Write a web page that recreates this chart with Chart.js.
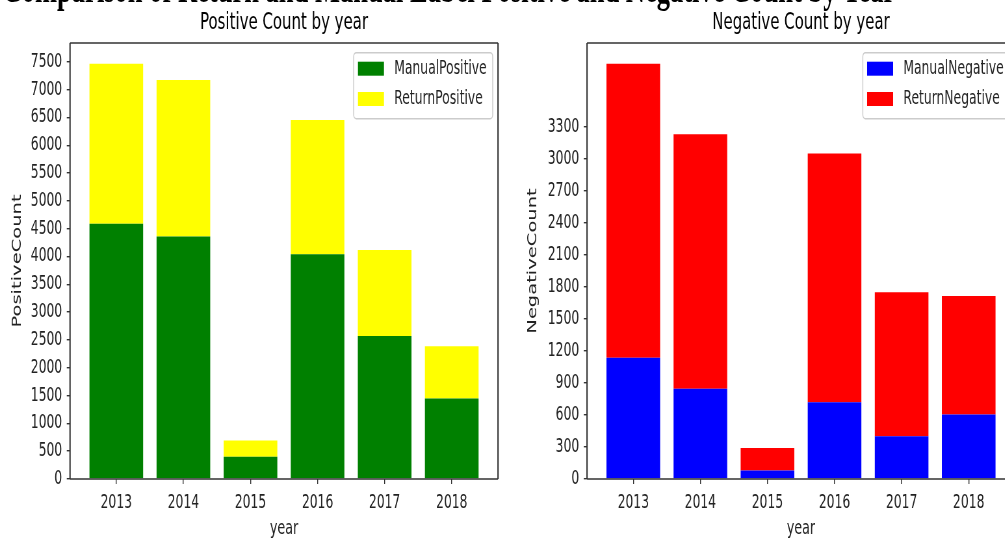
<!DOCTYPE html>
<html>
<head>
<meta charset="utf-8">
<script src="https://cdn.jsdelivr.net/npm/chart.js@4/dist/chart.umd.min.js"></script>
<style>
  html, body { margin: 0; padding: 0; background: #fff; overflow: hidden; }
  body { width: 1005px; height: 543px; position: relative; }
  #wrap {
    position: absolute; left: 0; top: 0; width: 1600px; height: 543px;
    transform: scaleX(0.65); transform-origin: 0 0;
  }
  #mainTitle {
    position: absolute; left: 4px; top: -31px; white-space: nowrap;
    font: bold 40.8px "Liberation Serif", serif; line-height: 40.8px; color: #000;
  }
  canvas { position: absolute; top: 0; }
  #posChart { left: 0; }
  #negChart { left: 790px; }
</style>
</head>
<body>
<div id="wrap">
  <div id="mainTitle">Comparison of Return and Manual Label Positive and Negative Count by Year</div>
  <canvas id="posChart" width="780" height="543"></canvas>
  <canvas id="negChart" width="780" height="543"></canvas>
</div>
<script>
// values
const years = ['2013', '2014', '2015', '2016', '2017', '2018'];
const manualPositive = [4590, 4360, 400, 4040, 2570, 1445];
const returnPositive = [2875, 2815, 290, 2415, 1545, 940];
const manualNegative = [1135, 845, 80, 720, 400, 605];
const returnNegative = [2755, 2385, 210, 2330, 1350, 1110];
const positiveTicks = [0, 500, 1000, 1500, 2000, 2500, 3000, 3500, 4000, 4500, 5000, 5500, 6000, 6500, 7000, 7500];
const negativeTicks = [0, 300, 600, 900, 1200, 1500, 1800, 2100, 2400, 2700, 3000, 3300];

const FONT = '"DejaVu Sans", sans-serif';
const INK = '#222';

// matplotlib style box round the plot area
const spines = {
    id: 'spines',
    afterDraw(chart) {
        const { ctx, chartArea: a } = chart;
        ctx.save();
        ctx.strokeStyle = '#333';
        ctx.lineWidth = 1.4;
        ctx.beginPath();
        ctx.moveTo(a.left, a.top); ctx.lineTo(a.right, a.top);
        ctx.moveTo(a.left, a.bottom); ctx.lineTo(a.right, a.bottom);
        ctx.stroke();
        ctx.lineWidth = 2.1;
        ctx.beginPath();
        ctx.moveTo(a.left, a.top); ctx.lineTo(a.left, a.bottom);
        ctx.moveTo(a.right, a.top); ctx.lineTo(a.right, a.bottom);
        ctx.stroke();
        ctx.restore();
    }
};

// subplot title, centred over the plot area (not the whole canvas)
const axesTitle = {
    id: 'axesTitle',
    afterDraw(chart, args, opts) {
        const { ctx, chartArea: a } = chart;
        ctx.save();
        ctx.font = '23px ' + FONT;
        ctx.fillStyle = '#000';
        ctx.textAlign = 'center';
        ctx.textBaseline = 'middle';
        ctx.fillText(opts.text, (a.left + a.right) / 2, a.top - 20);
        ctx.restore();
    }
};

// legend in the upper right corner, inside the axes
const insideLegend = {
    id: 'insideLegend',
    afterDraw(chart) {
        const { ctx, chartArea: a } = chart;
        const sets = chart.data.datasets;
        ctx.save();
        ctx.font = '19px ' + FONT;
        const textW = Math.max(...sets.map(d => ctx.measureText(d.label).width));
        const padL = 6.6, patchW = 40, gap = 15.8, padR = 9.2;
        const boxW = padL + patchW + gap + textW + padR;
        const boxH = 66;
        const right = a.right - 8.2;
        const left = right - boxW;
        const top = a.top + 9.7;

        ctx.fillStyle = 'rgba(255,255,255,0.8)';
        ctx.strokeStyle = '#cccccc';
        ctx.lineWidth = 1.5;
        ctx.beginPath();
        ctx.roundRect(left, top, boxW, boxH, 4);
        ctx.fill();
        ctx.stroke();

        sets.forEach((d, i) => {
            const py = top + 9 + i * 30.3;
            ctx.fillStyle = d.backgroundColor;
            ctx.fillRect(left + padL, py, patchW, 14);
            ctx.fillStyle = INK;
            ctx.textBaseline = 'middle';
            ctx.textAlign = 'left';
            ctx.fillText(d.label, left + padL + patchW + gap, py + 7.5);
        });
        ctx.restore();
    }
};

function makeChart(id, title, yTitle, labels, lower, upper, colors, tickValues, yAxisWidth, padRight, yTitlePad) {
    const totals = lower.map((v, i) => v + upper[i]);
    const toPoints = arr => arr.map((v, i) => ({ x: i, y: v }));

    return new Chart(document.getElementById(id), {
        type: 'bar',
        data: {
            datasets: [
                { label: labels[0], data: toPoints(lower), backgroundColor: colors[0], borderWidth: 0 },
                { label: labels[1], data: toPoints(upper), backgroundColor: colors[1], borderWidth: 0 }
            ]
        },
        options: {
            responsive: false,
            animation: false,
            barPercentage: 1,
            categoryPercentage: 0.8,
            layout: { padding: { left: 0, right: padRight, top: 43, bottom: 0 } },
            plugins: {
                legend: { display: false },
                tooltip: { enabled: false },
                title: { display: false },
                axesTitle: { text: title }
            },
            scales: {
                x: {
                    type: 'linear',
                    stacked: true,
                    offset: false,
                    min: -0.69,
                    max: years.length - 1 + 0.69,
                    afterBuildTicks: s => { s.ticks = years.map((y, i) => ({ value: i })); },
                    afterFit: s => { s.height = 64; },
                    grid: { display: true, drawOnChartArea: false, drawTicks: true, tickLength: 5, color: '#333', lineWidth: 1.4, offset: false },
                    border: { display: false },
                    ticks: {
                        color: INK, padding: 8, maxRotation: 0, autoSkip: false,
                        font: { family: FONT, size: 19 },
                        callback: v => years[v]
                    },
                    title: {
                        display: true, text: 'year', color: INK,
                        font: { family: FONT, size: 19.5 },
                        padding: { top: 0, bottom: 2 }
                    }
                },
                y: {
                    stacked: true,
                    min: 0,
                    max: Math.max(...totals) * 1.05,
                    afterBuildTicks: s => { s.ticks = tickValues.map(v => ({ value: v })); },
                    afterFit: s => { s.width = yAxisWidth; },
                    grid: { display: true, drawOnChartArea: false, drawTicks: true, tickLength: 5, color: '#333', lineWidth: 1.4 },
                    border: { display: false },
                    ticks: {
                        color: INK, padding: 7, font: { family: FONT, size: 19 },
                        callback: v => String(v)
                    },
                    title: {
                        display: true, text: yTitle, color: INK,
                        font: { family: FONT, size: 19.5 },
                        padding: { top: yTitlePad, bottom: 0 }
                    }
                }
            }
        },
        plugins: [spines, axesTitle, insideLegend]
    });
}

makeChart('posChart', 'Positive Count by year', 'PositiveCount',
    ['ManualPositive', 'ReturnPositive'], manualPositive, returnPositive,
    ['#008000', '#ffff00'], positiveTicks, 107.7, 13.8, 15);

makeChart('negChart', 'Negative Count by year', 'NegativeCount',
    ['ManualNegative', 'ReturnNegative'], manualNegative, returnNegative,
    ['#0000ff', '#ff0000'], negativeTicks, 113.1, 8.5, 18);
</script>
</body>
</html>
